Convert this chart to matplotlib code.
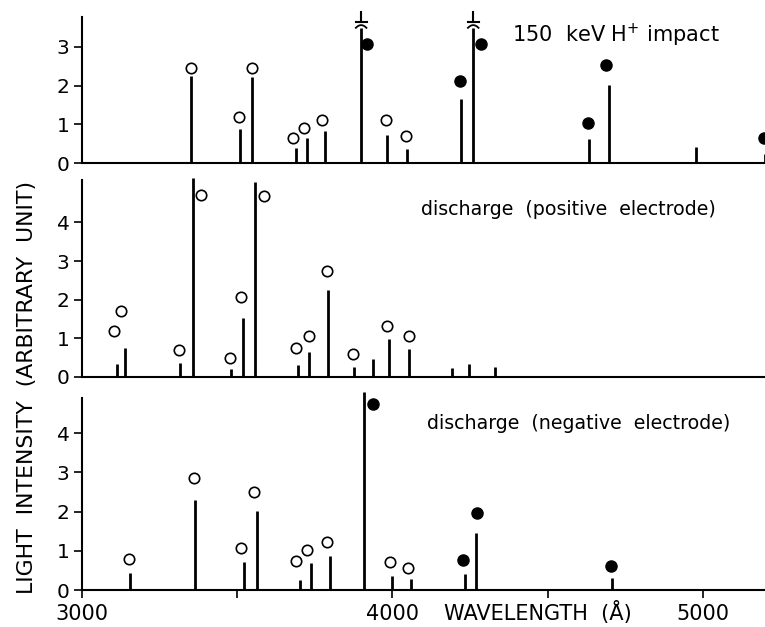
import matplotlib
matplotlib.use("Agg")
import matplotlib.pyplot as plt
import numpy as np

# ---- data (wavelength in Å, intensity in arbitrary units) ----
# Panel 1: 150 keV H+ impact
p1_wl = [3352, 3509, 3549, 3688, 3724, 3784, 3899, 3983, 4046, 4222, 4260, 4633, 4696, 4978, 5201]
p1_line = [2.25, 0.87, 2.21, 0.38, 0.64, 0.83, 3.49, 0.72, 0.36, 1.65, 3.49, 0.61, 2.02, 0.41, 0.23]
p1_open_wl = [3352, 3505, 3549, 3680, 3716, 3774, 3978, 4043]
p1_open_val = [2.45, 1.20, 2.45, 0.65, 0.90, 1.11, 1.11, 0.69]
p1_fill_wl = [3919, 4219, 4285, 4630, 4689, 5198]
p1_fill_val = [3.07, 2.12, 3.07, 1.02, 2.53, 0.65]
p1_broken = [3899, 4260]

# Panel 2: discharge (positive electrode)
p2_wl = [3113, 3137, 3315, 3357, 3479, 3518, 3557, 3697, 3730, 3792, 3876, 3937, 3989, 4053, 4191, 4245, 4329]
p2_line = [0.34, 0.76, 0.37, 5.15, 0.20, 1.52, 5.05, 0.31, 0.66, 2.26, 0.25, 0.47, 0.99, 0.73, 0.23, 0.33, 0.25]
p2_open_wl = [3102, 3127, 3312, 3383, 3476, 3511, 3585, 3690, 3730, 3788, 3872, 3983, 4054]
p2_open_val = [1.18, 1.72, 0.69, 4.70, 0.49, 2.06, 4.68, 0.74, 1.05, 2.74, 0.59, 1.32, 1.06]

# Panel 3: discharge (negative electrode)
p3_wl = [3154, 3363, 3522, 3563, 3703, 3738, 3798, 3908, 3999, 4061, 4233, 4270, 4706]
p3_line = [0.43, 2.30, 0.71, 2.02, 0.26, 0.68, 0.87, 5.06, 0.36, 0.27, 0.40, 1.46, 0.30]
p3_open_wl = [3150, 3360, 3511, 3553, 3689, 3724, 3789, 3993, 4051]
p3_open_val = [0.78, 2.86, 1.06, 2.49, 0.75, 1.02, 1.22, 0.71, 0.57]
p3_fill_wl = [3936, 4228, 4271, 4703]
p3_fill_val = [4.74, 0.77, 1.96, 0.61]

panel_titles = ["150  keV H$^{+}$ impact",
                "discharge  (positive  electrode)",
                "discharge  (negative  electrode)"]
y_ticks = [[0, 1, 2, 3], [0, 1, 2, 3, 4], [0, 1, 2, 3, 4]]
x_ticks = [3000, 3500, 4000, 4500, 5000]
x_ticklabels = ["3000", "", "4000", "", "5000"]

plt.rcParams['font.family'] = ['DejaVu Sans']

W, H = 765, 627
fig = plt.figure(figsize=(W / 100, H / 100), dpi=100)

def frame(top_px, bot_px):
    left = 82 / W
    right = 764 / W
    return [left, 1 - bot_px / H, right - left, (bot_px - top_px) / H]

ax1 = fig.add_axes(frame(17, 163))
ax2 = fig.add_axes(frame(180, 377))
ax3 = fig.add_axes(frame(398, 590))
axes = [ax1, ax2, ax3]
ylims = [3.77, 5.1, 4.9]
XMAX = 3000 + (764 - 82) / 0.3105

lw = 2.0
ms = 7.5
for i, ax in enumerate(axes):
    ax.set_xlim(3000, XMAX)
    ax.set_ylim(0, ylims[i])
    for s in ["top", "right"]:
        ax.spines[s].set_visible(False)
    ax.spines["left"].set_linewidth(1.5)
    ax.spines["bottom"].set_linewidth(1.5)
    ax.set_yticks(y_ticks[i])
    ax.tick_params(axis="y", direction="out", length=6, width=1.2, labelsize=14.5, pad=3)
    if i < 2:
        ax.set_xticks([])
    else:
        ax.set_xticks(x_ticks)
        ax.set_xticklabels(x_ticklabels)
        ax.tick_params(axis="x", direction="out", length=6, width=1.2, labelsize=15, pad=4)

def open_pts(ax, x, y):
    ax.plot(x, y, "o", ms=ms, mfc="white", mec="black", mew=1.2, ls="none", clip_on=False, zorder=3)

def fill_pts(ax, x, y):
    ax.plot(x, y, "o", ms=ms + 0.5, mfc="black", mec="black", ls="none", clip_on=False, zorder=3)

# Panel 1
ax1.vlines(p1_wl, 0, p1_line, colors="black", lw=lw, clip_on=False)
open_pts(ax1, p1_open_wl, p1_open_val)
fill_pts(ax1, p1_fill_wl, p1_fill_val)
for xb in p1_broken:
    # break symbol on the off-scale lines
    t = np.linspace(-1, 1, 20)
    ax1.plot(xb + 17 * t, 3.49 + 0.07 * (1 - t ** 2), color="black", lw=1.3, clip_on=False)
    ax1.plot([xb - 18, xb + 18], [3.64, 3.64], color="black", lw=1.5, clip_on=False)
    ax1.plot([xb, xb], [3.64, 3.9], color="black", lw=1.5, clip_on=False)
ax1.text(4385, 3.3, panel_titles[0], fontsize=15, va="center", ha="left")

# Panel 2
ax2.text(4091, 4.34, panel_titles[1], fontsize=13.7, va="center", ha="left")
ax2.vlines(p2_wl, 0, p2_line, colors="black", lw=lw, clip_on=False)
open_pts(ax2, p2_open_wl, p2_open_val)

# Panel 3
ax3.vlines(p3_wl, 0, p3_line, colors="black", lw=lw, clip_on=False)
open_pts(ax3, p3_open_wl, p3_open_val)
fill_pts(ax3, p3_fill_wl, p3_fill_val)
ax3.text(4110, 4.26, panel_titles[2], fontsize=13.7, va="center", ha="left")

ax3.text(4467, -0.58, "WAVELENGTH  (Å)", fontsize=15, va="center", ha="center")

fig.text(27 / W, 1 - 387 / H, "LIGHT  INTENSITY  (ARBITRARY  UNIT)", rotation=90,
         fontsize=15.8, va="center", ha="center")

fig.savefig("out.png", dpi=100, facecolor="white")
